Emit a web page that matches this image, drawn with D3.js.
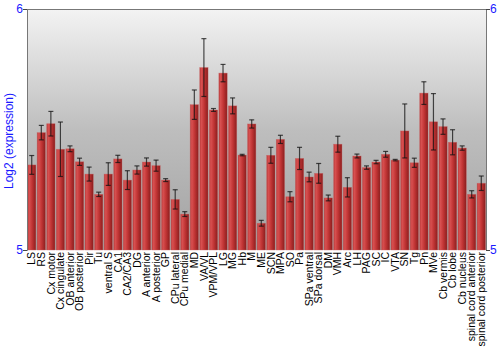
<!DOCTYPE html>
<html><head><meta charset="utf-8">
<script src="https://cdn.jsdelivr.net/npm/d3@7"></script>
<style>body{margin:0;background:#fff}svg{display:block}</style>
</head><body>
<svg id="chart" width="500" height="350"></svg>
<script>
const categories = ["LS","RS","Cx motor","Cx cingulate","OB anterior","OB posterior","Pir","Tu","ventral S","CA1","CA2/CA3","DG","A anterior","A posterior","GP","CPu lateral","CPu medial","MD","VA/VL","VPM/VPL","LG","MG","Hb","M","ME","SCN","MPA","SO","Pa","SPa ventral","SPa dorsal","DM","VMH","Arc","LH","PAG","SC","IC","VTA","SN","Tg","Pn","MVe","Cb vermis","Cb lobe","Cb nucleus","spinal cord anterior","spinal cord posterior"];
const values = [5.353,5.487,5.524,5.418,5.420,5.366,5.315,5.231,5.315,5.378,5.290,5.332,5.365,5.350,5.290,5.210,5.149,5.603,5.757,5.581,5.734,5.598,5.394,5.523,5.111,5.393,5.459,5.221,5.380,5.303,5.318,5.216,5.439,5.260,5.390,5.342,5.365,5.397,5.373,5.494,5.362,5.651,5.532,5.512,5.447,5.423,5.231,5.277];
const errors = [0.039,0.030,0.051,0.113,0.012,0.015,0.029,0.009,0.047,0.015,0.039,0.017,0.017,0.023,0.006,0.040,0.010,0.061,0.120,0.006,0.036,0.033,0.003,0.017,0.012,0.033,0.017,0.021,0.046,0.020,0.041,0.012,0.033,0.040,0.008,0.007,0.007,0.012,0.003,0.112,0.019,0.047,0.117,0.032,0.052,0.009,0.015,0.030];
const yTicks = [5, 6];
const yTitle = "Log2 (expression)";

const svg = d3.select("#chart");
const m = {left: 27, right: 14, top: 9, bottom: 100};
const W = 500, H = 350;
const x = d3.scaleBand().domain(categories).range([m.left, W - m.right]).paddingInner(0.13).paddingOuter(0.06);
const y = d3.scaleLinear().domain([5, 6]).range([H - m.bottom, m.top]);

const defs = svg.append("defs");
const bg = defs.append("linearGradient").attr("id","bg").attr("x1",0).attr("y1",0).attr("x2",0).attr("y2",1);
bg.append("stop").attr("offset","0%").attr("stop-color","#f3f3f3");
bg.append("stop").attr("offset","50%").attr("stop-color","#bebebe");
bg.append("stop").attr("offset","100%").attr("stop-color","#a2a2a2");
const bar = defs.append("linearGradient").attr("id","bar").attr("x1",0).attr("y1",0).attr("x2",1).attr("y2",0);
bar.append("stop").attr("offset","0%").attr("stop-color","#b83a3a");
bar.append("stop").attr("offset","20%").attr("stop-color","#d85050");
bar.append("stop").attr("offset","55%").attr("stop-color","#c03434");
bar.append("stop").attr("offset","100%").attr("stop-color","#8a1e1e");

svg.append("rect").attr("x", m.left).attr("y", m.top)
  .attr("width", W - m.right - m.left).attr("height", y(5) - m.top).attr("fill","url(#bg)");

const g = svg.append("g");
g.selectAll("rect.bar").data(categories).join("rect").attr("class","bar")
  .attr("x", d => x(d)).attr("width", x.bandwidth())
  .attr("y", (d,i) => y(values[i])).attr("height", (d,i) => y(5) - y(values[i]))
  .attr("fill","url(#bar)").attr("stroke","#c86060").attr("stroke-opacity",0.6).attr("stroke-width",0.6);

const eg = g.selectAll("g.err").data(categories).join("g").attr("class","err")
  .attr("stroke","#111").attr("stroke-opacity",0.75).attr("stroke-width",1.2);
eg.append("line").attr("x1", d => x(d) + x.bandwidth()/2).attr("x2", d => x(d) + x.bandwidth()/2)
  .attr("y1", (d,i) => y(values[i] + errors[i])).attr("y2", (d,i) => y(values[i] - errors[i]));
eg.append("line").attr("x1", d => x(d) + x.bandwidth()/2 - 2.5).attr("x2", d => x(d) + x.bandwidth()/2 + 2.5)
  .attr("y1", (d,i) => y(values[i] + errors[i])).attr("y2", (d,i) => y(values[i] + errors[i]));
eg.append("line").attr("x1", d => x(d) + x.bandwidth()/2 - 2.5).attr("x2", d => x(d) + x.bandwidth()/2 + 2.5)
  .attr("y1", (d,i) => y(values[i] - errors[i])).attr("y2", (d,i) => y(values[i] - errors[i]));

// frame
svg.append("line").attr("x1", m.left).attr("x2", W - m.right).attr("y1", m.top + 0.5).attr("y2", m.top + 0.5).attr("stroke","#777");

const left = svg.append("g").attr("transform", `translate(${m.left},0)`)
  .call(d3.axisLeft(y).tickValues(yTicks).tickSize(4).tickPadding(0).tickFormat(d3.format("d")));
const right = svg.append("g").attr("transform", `translate(${W - m.right},0)`)
  .call(d3.axisRight(y).tickValues(yTicks).tickSize(4).tickPadding(0).tickFormat(d3.format("d")));
[left, right].forEach(a => {
  a.select(".domain").attr("stroke","#777");
  a.selectAll(".tick line").attr("stroke","#444");
  a.selectAll("text").attr("fill","#1a1aff").attr("font-family","Liberation Sans, Arial, sans-serif").attr("font-size",12);
});

svg.append("text").attr("transform", "translate(13,141) rotate(-90)")
  .attr("text-anchor","middle").attr("fill","#1a1aff")
  .attr("font-family","Liberation Sans, Arial, sans-serif").attr("font-size",12).text(yTitle);

svg.append("g").selectAll("text").data(categories).join("text")
  .attr("transform", d => `translate(${x(d) + x.bandwidth()/2},${y(5) + 2}) rotate(-90)`)
  .attr("text-anchor","end").attr("dy","0.35em")
  .attr("font-family","Liberation Sans, Arial, sans-serif").attr("font-size",10.5).attr("fill","#000")
  .text(d => d);
</script>
</body></html>
